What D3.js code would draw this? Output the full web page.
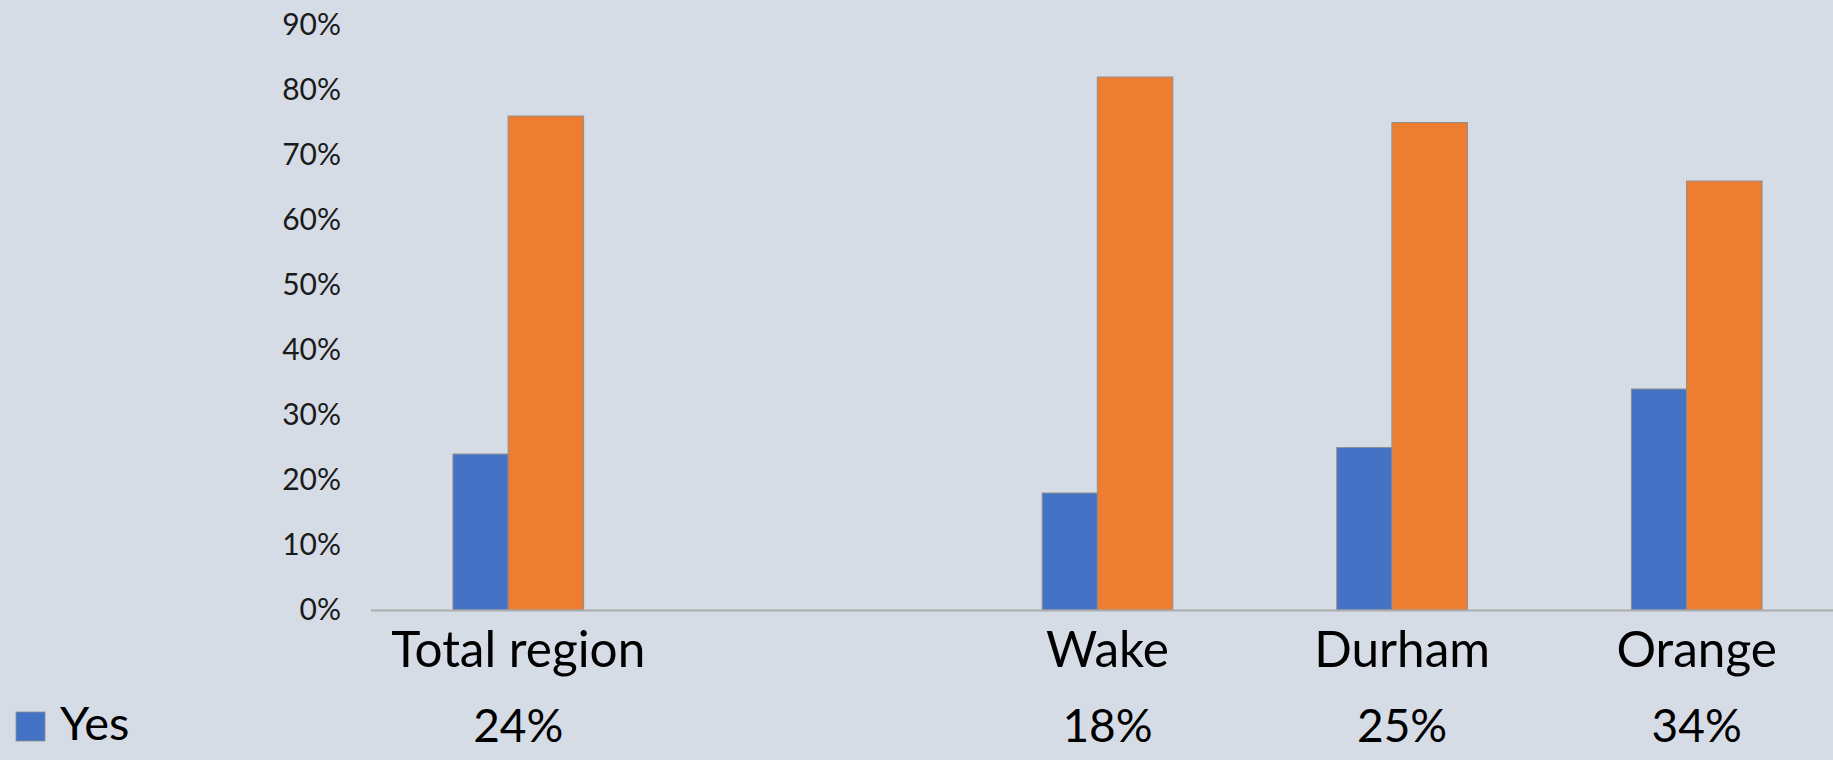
<!DOCTYPE html>
<html>
<head>
<meta charset="utf-8">
<script src="https://cdn.jsdelivr.net/npm/d3@7"></script>
<style>
  html, body { margin: 0; padding: 0; background: #D6DCE5; }
  svg { display: block; font-family: Lato, "Noto Sans", sans-serif; }
</style>
</head>
<body>
<svg id="chart"></svg>
<script>
document.addEventListener("DOMContentLoaded", function() {

    var width = 1833;
    var height = 760;

    // data
    var categories = ["Total region", "", "Wake", "Durham", "Orange"];
    var seriesNames = ["Yes", "No"];
    var yesValues = [0.24, null, 0.18, 0.25, 0.34];
    var noValues = [0.76, null, 0.82, 0.75, 0.66];
    var yTicks = [0, 0.1, 0.2, 0.3, 0.4, 0.5, 0.6, 0.7, 0.8, 0.9];

    var colors = ["#4472C4", "#ED7D31"];

    var plot = { left: 371, right: 1844, top: 25, bottom: 610 };

    // excel style gap width / overlap
    var gapWidth = 2.17;
    var overlap = 0.27;

    var svg = d3.select("#chart")
        .attr("width", width)
        .attr("height", height);

    svg.append("rect")
        .attr("width", width)
        .attr("height", height)
        .attr("fill", "#D6DCE5");

    var idx = d3.range(categories.length);

    var xScale = d3.scaleBand()
        .domain(idx)
        .range([plot.left, plot.right])
        .padding(0);

    var yScale = d3.scaleLinear()
        .domain([0, 0.9])
        .range([plot.bottom, plot.top]);

    var bw = xScale.bandwidth();
    var barW = bw / (2 - overlap + gapWidth);
    var step = barW * (1 - overlap);
    var groupW = barW + step;

    var series = [yesValues, noValues];

    // bars, orange drawn after blue so it sits on top
    series.forEach(function(values, s) {
        svg.append("g")
          .selectAll("rect")
          .data(idx.filter(i => values[i] != null))
          .enter()
          .append("rect")
            .attr("x", i => xScale(i) + bw / 2 - groupW / 2 + s * step)
            .attr("y", i => yScale(values[i]))
            .attr("width", barW)
            .attr("height", i => yScale(0) - yScale(values[i]))
            .attr("fill", colors[s])
            .attr("stroke", "#8f8f8f")
            .attr("stroke-width", 1);
    });

    // y axis labels
    var yAxis = d3.axisLeft(yScale)
        .tickValues(yTicks)
        .tickFormat(d3.format(".0%"))
        .tickSize(0)
        .tickPadding(30);

    var gy = svg.append("g")
        .attr("transform", `translate(${plot.left}, 0)`)
        .call(yAxis);
    gy.select(".domain").remove();
    gy.selectAll("text")
        .attr("font-family", "Lato, sans-serif")
        .attr("font-size", 30)
        .attr("fill", "#1a1a1a");

    // category axis
    var xAxis = d3.axisBottom(xScale)
        .tickFormat(i => categories[i])
        .tickSize(0)
        .tickPadding(22);

    var gx = svg.append("g")
        .attr("transform", `translate(0, ${plot.bottom})`)
        .call(xAxis);
    gx.select(".domain")
        .attr("stroke", "#ababab")
        .attr("stroke-width", 2)
        .attr("d", `M${plot.left},0.5H${plot.right}`);
    gx.selectAll("text")
        .attr("font-family", "Lato, sans-serif")
        .attr("font-size", 49.5)
        .attr("fill", "#000");

    // data table row (Yes)
    var rowY = 742;
    svg.append("rect")
        .attr("x", 16)
        .attr("y", 712)
        .attr("width", 29)
        .attr("height", 29)
        .attr("fill", colors[0])
        .attr("stroke", "#8f8f8f")
        .attr("stroke-width", 0.8);

    svg.append("text")
        .attr("x", 60)
        .attr("y", 740)
        .attr("font-size", 47)
        .attr("fill", "#000")
        .text(seriesNames[0]);

    svg.append("g")
      .selectAll("text")
      .data(idx.filter(i => yesValues[i] != null))
      .enter()
      .append("text")
        .attr("x", i => xScale(i) + bw / 2)
        .attr("y", rowY)
        .attr("text-anchor", "middle")
        .attr("font-size", 46)
        .attr("fill", "#000")
        .text(i => d3.format(".0%")(yesValues[i]));
});
</script>
</body>
</html>
